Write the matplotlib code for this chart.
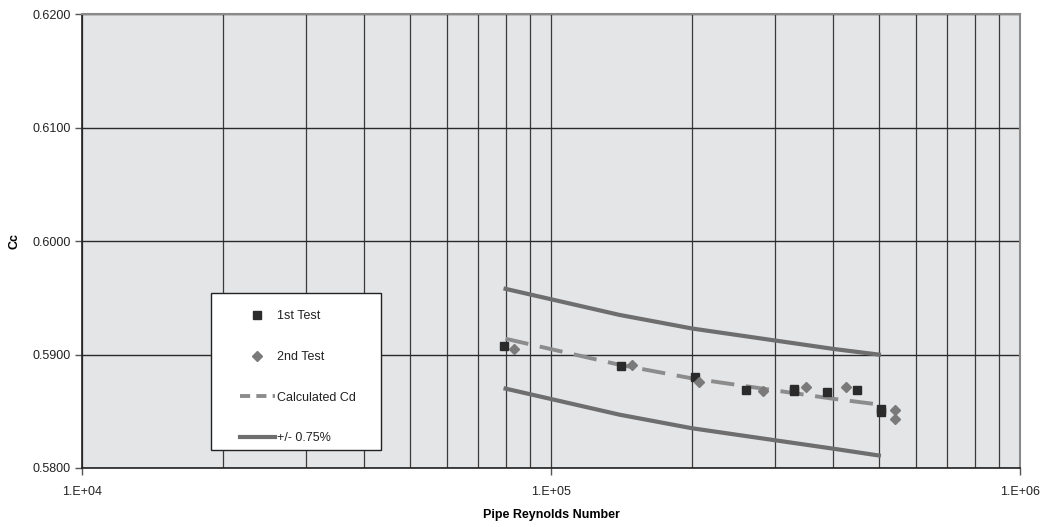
import matplotlib.pyplot as plt
from matplotlib.patches import Rectangle
from matplotlib.ticker import FixedLocator, NullFormatter, NullLocator

plt.rcParams['font.family'] = ['Liberation Sans', 'DejaVu Sans']

# calculated Cd and the +/- 0.75% band
re_calc = [8.0e4, 1.4e5, 2.0e5, 3.3e5, 4.0e5, 5.0e5]
cd_calc = [0.5914, 0.5891, 0.5879, 0.5866, 0.5861, 0.5856]
cd_upper = [0.5958, 0.5935, 0.5923, 0.5910, 0.5905, 0.5900]
cd_lower = [0.5870, 0.5847, 0.5835, 0.5822, 0.5817, 0.5811]

# test points
re_test1 = [7.95e4, 1.41e5, 2.03e5, 2.61e5, 3.30e5, 3.30e5, 3.87e5, 4.49e5, 5.05e5, 5.05e5]
cc_test1 = [0.5908, 0.5890, 0.5880, 0.5869, 0.5870, 0.5868, 0.5867, 0.5869, 0.5852, 0.5849]
re_test2 = [8.35e4, 1.49e5, 2.07e5, 2.83e5, 3.50e5, 4.25e5, 5.41e5, 5.41e5]
cc_test2 = [0.5905, 0.5891, 0.5876, 0.5868, 0.5871, 0.5871, 0.5851, 0.5843]

fig = plt.figure(figsize=(10.53, 5.27), dpi=100)
ax = fig.add_axes([0.0779, 0.112, 0.8908, 0.8605])
ax.set_facecolor('#e4e5e7')

ax.set_xscale('log')
ax.set_xlim(1e4, 1e6)
ax.set_ylim(0.58, 0.62)

ax.xaxis.set_major_locator(FixedLocator([1e4, 1e5, 1e6]))
ax.set_xticklabels(['1.E+04', '1.E+05', '1.E+06'])
ax.xaxis.set_minor_locator(FixedLocator([m * 10**e for e in (4, 5) for m in range(2, 10)]))
ax.xaxis.set_minor_formatter(NullFormatter())
ax.set_yticks([0.58, 0.59, 0.60, 0.61, 0.62])
ax.set_yticklabels(['%.4f' % v for v in [0.58, 0.59, 0.60, 0.61, 0.62]])
ax.yaxis.set_minor_locator(NullLocator())

ax.grid(True, which='both', axis='x', color='#3a3a3a', lw=0.9)
ax.grid(True, which='major', axis='y', color='#2a2a2a', lw=1.0)
ax.set_axisbelow(True)

ax.tick_params(axis='both', which='major', length=5, width=1, color='#555555',
               labelsize=9, labelcolor='#222222')
ax.tick_params(axis='x', which='minor', length=0)
ax.tick_params(axis='x', pad=8)
ax.tick_params(axis='y', pad=3)

for s in ['top', 'right']:
    ax.spines[s].set_color('#8a8a8a')
    ax.spines[s].set_linewidth(1.5)
for s in ['left', 'bottom']:
    ax.spines[s].set_color('#222222')
    ax.spines[s].set_linewidth(1.2)

ax.plot(re_test1, cc_test1, 's', color='#2b2b2b', ms=6, label='1st Test', zorder=4)
ax.plot(re_test2, cc_test2, 'D', color='#7a7a7a', ms=5, label='2nd Test', zorder=4)
ax.plot(re_calc, cd_calc, color='#8c8c8c', lw=2.8, dashes=(6, 3), label='Calculated Cd', zorder=3)
ax.plot(re_calc, cd_upper, color='#6e6e6e', lw=3, label='+/- 0.75%', zorder=3)
ax.plot(re_calc, cd_lower, color='#6e6e6e', lw=3, zorder=3)

ax.set_xlabel('Pipe Reynolds Number', fontsize=9, fontweight='bold', labelpad=8)
ax.set_ylabel('Cc', fontsize=9, fontweight='bold')
ax.yaxis.set_label_coords(-0.066, 0.5)

# legend box drawn separately so its padding matches the original
ax.add_patch(Rectangle((0.1375, 0.0397), 0.1813, 0.3466, transform=ax.transAxes,
                       facecolor='white', edgecolor='#222222', lw=1, zorder=5))
leg = ax.legend(loc='lower left', bbox_to_anchor=(0.1684, 0.052), fontsize=9,
                frameon=False, labelspacing=2.3, handlelength=2.8,
                handletextpad=0.15, borderpad=0, borderaxespad=0)
leg.set_zorder(6)
leg.get_lines()[2].set_dashes((2.6, 1.6))
for t in leg.get_texts():
    t.set_color('#222222')

fig.savefig('out.png', dpi=100)
